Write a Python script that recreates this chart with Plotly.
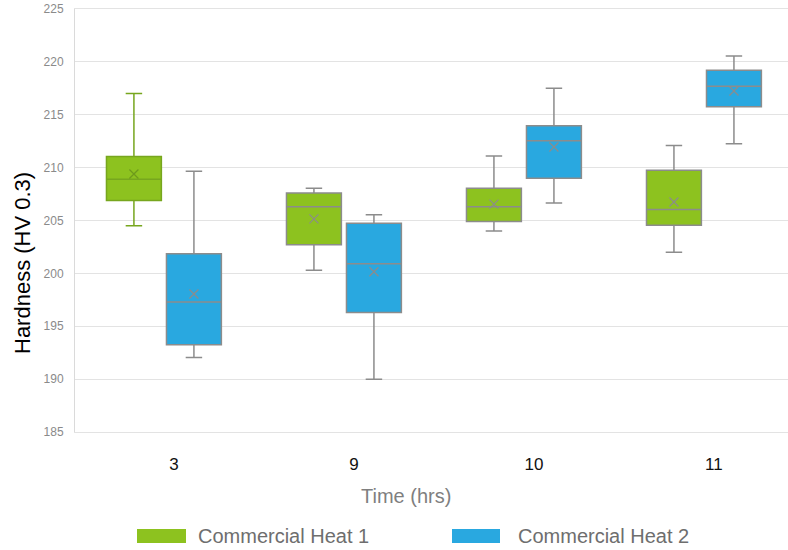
import plotly.graph_objects as go

categories = ["3", "9", "10", "11"]
series_names = ["Commercial Heat 1", "Commercial Heat 2"]

heat1_min = [204.5, 200.3, 204.0, 202.0]
heat1_q1 = [206.9, 202.7, 204.9, 204.55]
heat1_median = [208.9, 206.3, 206.3, 206.05]
heat1_q3 = [211.05, 207.6, 208.05, 209.75]
heat1_max = [217.0, 208.05, 211.1, 212.1]
heat1_mean = [209.4, 205.15, 206.55, 206.75]

heat2_min = [192.05, 190.0, 206.65, 212.25]
heat2_q1 = [193.25, 196.3, 209.0, 215.75]
heat2_median = [197.3, 200.9, 212.55, 217.7]
heat2_q3 = [201.85, 204.75, 213.95, 219.2]
heat2_max = [209.65, 205.55, 217.5, 220.55]
heat2_mean = [198.05, 200.15, 211.95, 217.25]

y_ticks = [185, 190, 195, 200, 205, 210, 215, 220, 225]

FONT = "Arial, Liberation Sans, sans-serif"
fills = ["#8DC21F", "#29A8E0"]
offsets = [-1 / 6, 1 / 6]

W, H = 788, 550
ML, MR, MT, MB = 75, 0, 9, 118
PW, PH = W - ML - MR, H - MT - MB


def px_x(p):
    return (p - ML) / PW


def px_y(p):
    return (H - MB - p) / PH


series = [
    (heat1_min, heat1_q1, heat1_median, heat1_q3, heat1_max, heat1_mean),
    (heat2_min, heat2_q1, heat2_median, heat2_q3, heat2_max, heat2_mean),
]

fig = go.Figure()
for s, (mn, q1, md, q3, mx, mean) in enumerate(series):
    for i, cat in enumerate(categories):
        line_col = "#77A61E" if (s == 0 and i == 0) else "#8C8C8C"
        mark_col = "#6E9A1C" if (s == 0 and i == 0) else "#8C8C8C"
        pos = i + offsets[s]
        fig.add_trace(go.Box(
            x=[pos], q1=[q1[i]], median=[md[i]], q3=[q3[i]],
            lowerfence=[mn[i]], upperfence=[mx[i]],
            width=0.305, whiskerwidth=0.3,
            fillcolor=fills[s], line=dict(color=line_col, width=1.5),
            boxpoints=False, showlegend=False, name=series_names[s],
            hoverinfo="y",
        ))
        fig.add_trace(go.Scatter(
            x=[pos], y=[mean[i]], mode="markers",
            marker=dict(symbol="x-thin", size=9,
                        line=dict(color=mark_col, width=1.2)),
            showlegend=False, hoverinfo="y",
        ))

fig.update_layout(
    width=W, height=H,
    margin=dict(l=ML, r=MR, t=MT, b=MB),
    paper_bgcolor="white", plot_bgcolor="white",
    font=dict(family=FONT),
    showlegend=False,
)
fig.update_xaxes(
    range=[-0.494, 3.467],
    tickvals=list(range(len(categories))), ticktext=categories,
    showgrid=False, zeroline=False,
    showline=True, linecolor="#E3E3E3", linewidth=1, mirror=True,
    ticks="", tickfont=dict(size=17, color="#111111", family=FONT),
    ticklabelstandoff=17, ticklabelshift=10,
)
fig.update_yaxes(
    range=[185, 225], tickvals=y_ticks,
    showgrid=True, gridcolor="#E3E3E3", gridwidth=1,
    zeroline=False, showline=True, linecolor="#DADADA", linewidth=1,
    ticks="", tickfont=dict(size=12, color="#8A8A8A", family=FONT),
    ticklabelstandoff=8,
)

# axis titles
fig.add_annotation(
    text="Hardness (HV 0.3)", xref="paper", yref="paper",
    x=px_x(22), y=px_y(263), xanchor="center", yanchor="middle",
    textangle=-90, showarrow=False,
    font=dict(size=22, color="#000000", family=FONT),
)
fig.add_annotation(
    text="Time (hrs)", xref="paper", yref="paper",
    x=px_x(406), y=px_y(496), xanchor="center", yanchor="middle",
    showarrow=False, font=dict(size=20, color="#7F7F7F", family=FONT),
)

# legend
legend_items = [(137, 186, 196), (452, 500, 516)]
for s, (x0, x1, tx) in enumerate(legend_items):
    fig.add_shape(
        type="rect", xref="paper", yref="paper",
        x0=px_x(x0), x1=px_x(x1), y0=px_y(543), y1=px_y(529),
        fillcolor=fills[s], line=dict(width=0),
    )
    fig.add_annotation(
        text=series_names[s], xref="paper", yref="paper",
        x=px_x(tx), y=px_y(536), xanchor="left", yanchor="middle",
        showarrow=False, font=dict(size=20, color="#6E6E6E", family=FONT),
    )

fig.write_html("out.html")
